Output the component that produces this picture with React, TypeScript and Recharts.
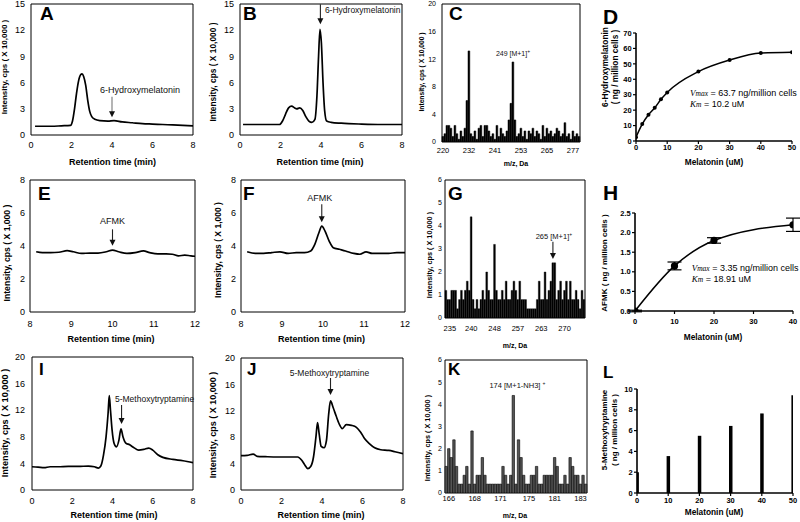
import React from 'react'
import {
  Bar,
  ComposedChart,
  ErrorBar,
  Line,
  ReferenceArea,
  ReferenceDot,
  XAxis,
  YAxis,
} from 'recharts'

const INK = '#000'
const SANS = '"Liberation Sans", Arial, Helvetica, sans-serif'
const SERIF = '"Liberation Serif", "Times New Roman", serif'

// ---------------------------------------------------------------------------
// Chromatograms (retention time in min, intensity)
// ---------------------------------------------------------------------------
const aTime = [0.2, 0.6, 1.0, 1.5, 1.95, 2.05, 2.15, 2.25, 2.35, 2.45, 2.52, 2.6, 2.7, 2.8, 2.9, 3.0, 3.15, 3.4, 3.8, 4.1, 4.5, 5.0, 5.5, 6.0, 6.5, 7.0, 7.5, 8.0]
const aSignal = [1.0, 1.0, 1.0, 1.05, 1.1, 1.6, 3.0, 4.8, 6.2, 6.9, 7.0, 6.7, 5.7, 4.0, 2.7, 2.1, 1.8, 1.65, 1.6, 1.65, 1.5, 1.4, 1.3, 1.25, 1.2, 1.15, 1.1, 1.05]

const bTime = [0.15, 0.6, 1.0, 1.5, 1.95, 2.1, 2.25, 2.4, 2.55, 2.7, 2.8, 2.95, 3.1, 3.25, 3.4, 3.55, 3.7, 3.8, 3.88, 3.95, 4.02, 4.1, 4.18, 4.28, 4.5, 5.0, 6.0, 7.0, 8.0]
const bSignal = [1.2, 1.2, 1.2, 1.2, 1.2, 1.6, 2.4, 3.1, 3.3, 3.1, 3.0, 3.1, 2.8, 2.1, 1.6, 1.45, 1.8, 4.5, 9.0, 12.1, 10.5, 6.0, 2.8, 1.6, 1.45, 1.35, 1.25, 1.2, 1.2]

const eTime = [8.15, 8.3, 8.5, 8.7, 8.9, 9.05, 9.25, 9.45, 9.65, 9.85, 10.0, 10.15, 10.35, 10.55, 10.75, 10.9, 11.1, 11.3, 11.45, 11.6, 11.75, 11.9, 12.0]
const eSignal = [3.65, 3.6, 3.6, 3.62, 3.72, 3.65, 3.55, 3.57, 3.57, 3.65, 3.75, 3.65, 3.55, 3.6, 3.7, 3.6, 3.52, 3.52, 3.5, 3.4, 3.45, 3.4, 3.38]

const fTime = [8.15, 8.35, 8.55, 8.75, 8.95, 9.15, 9.35, 9.55, 9.7, 9.8, 9.9, 9.97, 10.05, 10.15, 10.25, 10.4, 10.55, 10.75, 10.9, 11.05, 11.2, 11.4, 11.6, 11.8, 12.0]
const fSignal = [3.65, 3.55, 3.55, 3.6, 3.65, 3.55, 3.6, 3.6, 3.7, 4.1, 4.8, 5.2, 4.9, 4.3, 3.9, 3.8, 3.7, 3.55, 3.5, 3.65, 3.55, 3.55, 3.55, 3.6, 3.6]

const iTime = [0, 0.3, 0.6, 0.9, 1.3, 1.8, 2.3, 2.8, 3.1, 3.3, 3.42, 3.55, 3.68, 3.78, 3.84, 3.9, 3.98, 4.08, 4.2, 4.32, 4.42, 4.52, 4.65, 4.85, 5.05, 5.3, 5.55, 5.8, 6.0, 6.25, 6.5, 7.0, 7.5, 8.0]
const iSignal = [3.5, 3.45, 3.35, 3.5, 3.5, 3.55, 3.55, 3.6, 3.5, 3.3, 3.6, 5.2, 8.0, 11.5, 14.2, 12.0, 9.0, 7.0, 6.5, 7.5, 9.2, 8.0, 7.1, 6.8, 6.4, 6.0, 6.1, 6.3, 6.0, 5.3, 4.9, 4.6, 4.4, 4.1]

const jTime = [0, 0.3, 0.6, 0.8, 1.2, 1.8, 2.4, 2.8, 3.0, 3.15, 3.3, 3.45, 3.58, 3.7, 3.78, 3.86, 3.96, 4.1, 4.22, 4.33, 4.42, 4.55, 4.7, 4.85, 5.0, 5.2, 5.45, 5.7, 5.9, 6.1, 6.35, 6.6, 6.9, 7.3, 7.6, 8.0]
const jSignal = [5.2, 5.25, 5.45, 5.1, 5.05, 5.0, 5.0, 5.0, 4.5, 3.8, 3.25, 3.6, 5.0, 8.0, 10.2, 8.5, 6.6, 6.4, 7.5, 11.5, 13.5, 12.5, 11.2, 10.0, 9.3, 9.9, 9.8, 9.5, 8.8, 7.8, 7.0, 6.4, 6.1, 6.0, 5.8, 5.5]

const runTicks = [0, 2, 4, 6, 8]
const afmkTicks = [8, 9, 10, 11, 12]
const hydroxyY = [0, 3, 6, 9, 12, 15]
const afmkY = [0, 2, 4, 6, 8]
const methoxyY = [0, 4, 8, 12, 16, 20]

// ---------------------------------------------------------------------------
// Mass spectra (one bar per channel, labels only at a few channels)
// ---------------------------------------------------------------------------
const cIntensity = [0.8, 1.2, 2.4, 2.4, 2.0, 0.8, 2.4, 1.2, 0.4, 1.6, 0.8, 2.0, 6.0, 13.2, 1.2, 0.8, 1.6, 0.4, 2.0, 2.4, 0.8, 2.4, 2.4, 1.6, 0.8, 1.2, 0.4, 2.4, 0.8, 2.0, 1.2, 0.8, 1.6, 3.2, 5.6, 11.6, 3.2, 0.8, 1.2, 2.0, 0.8, 1.6, 0.4, 1.6, 1.2, 2.0, 0.8, 1.6, 1.2, 0.4, 2.4, 0.8, 2.0, 1.2, 1.6, 0.8, 1.2, 2.0, 1.6, 0.8, 1.2, 2.8, 0.8, 1.2, 0.4, 1.6, 0.8, 1.2, 0.8]
const cTickIdx = [0, 13, 26, 39, 52, 65]
const cTickLabels = ['220', '232', '241', '253', '265', '277']

const gIntensity = [1.2, 0.8, 0.8, 1.2, 1.2, 1.2, 0.4, 0.8, 1.2, 0.8, 1.2, 1.6, 1.2, 4.4, 0.8, 0.4, 0.8, 0.4, 0.8, 1.2, 0.8, 2.0, 1.2, 0.8, 0.8, 3.2, 1.2, 0.8, 0.8, 1.2, 0.8, 1.6, 0.8, 0.8, 1.2, 1.6, 1.2, 0.8, 1.6, 0.8, 0.8, 0.8, 0.4, 0.4, 0.4, 0.4, 0.4, 0.8, 1.6, 0.8, 0.8, 2.0, 0.8, 1.2, 1.6, 2.4, 2.4, 0.8, 1.2, 1.6, 0.8, 1.2, 1.6, 0.8, 1.6, 0.8, 0.8, 1.2, 0.8, 0.4, 1.2, 0.8]
const gTickIdx = [2, 13, 25, 37, 49, 61]
const gTickLabels = ['235', '240', '248', '257', '263', '270']

const kIntensity = [1.2, 2.0, 1.6, 2.4, 1.2, 0.4, 0.4, 0.8, 1.2, 0.4, 2.8, 0.4, 0.8, 0.8, 1.6, 0.8, 0.4, 0.4, 0.4, 0.4, 0.4, 0.4, 1.2, 0.8, 0.4, 0.8, 4.4, 0.4, 2.4, 1.6, 0.8, 0.4, 0.4, 0.8, 0.8, 1.2, 0.4, 0.4, 0.8, 0.8, 0.8, 0.8, 1.6, 1.2, 0.4, 0.4, 0.8, 0.4, 1.6, 1.2, 0.8, 0.8, 0.4, 0.8, 0.4]
const kTickIdx = [1, 11, 21, 32, 42, 52]
const kTickLabels = ['166', '168', '171', '175', '181', '183']

// ---------------------------------------------------------------------------
// Dose response (melatonin uM)
// ---------------------------------------------------------------------------
const dMelatonin = [0, 2, 4, 6, 8, 10, 20, 30, 40, 50]
const dHydroxy = [2.5, 11, 17, 21.5, 27, 31.5, 45, 52.5, 57, 57.5]

const hMelatonin = [0, 10, 20, 40]
const hAfmk = [0, 1.15, 1.8, 2.2]
const hAfmkErr = [0.02, 0.1, 0.07, 0.17]

const lMelatonin = [0, 10, 20, 30, 40, 50]
const lMethoxy = [2.0, 3.55, 5.5, 6.45, 7.65, 9.4]

type Rect = { x0: number; y0: number; x1: number; y1: number }

interface Note {
  x: number
  y: number
  text: React.ReactNode
  size: number
  dx: number
  dy: number
  gap?: number
  len?: number
  anchor?: 'start' | 'middle' | 'end'
  color?: string
}

// arrow + label hung above a data point
function noteShape(n: Note) {
  return (props: any) => {
    const { cx, cy } = props
    if (cx == null || cy == null) return <g />
    const len = n.len ?? 0
    const tip = cy - (n.gap ?? 0)
    const col = n.color ?? '#222'
    return (
      <g>
        {len > 0 && (
          <g>
            <line x1={cx} x2={cx} y1={tip - len} y2={tip - 5} stroke={col} strokeWidth={1.1} />
            <polygon points={`${cx - 3},${tip - 6} ${cx + 3},${tip - 6} ${cx},${tip}`} fill="#111" />
          </g>
        )}
        <text
          x={cx + n.dx}
          y={tip + n.dy}
          textAnchor={n.anchor ?? 'middle'}
          fontSize={n.size}
          fill="#111"
          fontFamily={SANS}
        >
          {n.text}
        </text>
      </g>
    )
  }
}

const sup = (s: string) => (
  <tspan dy={-3} fontSize={5}>
    {s}
  </tspan>
)

interface ChromProps {
  plot: Rect
  time: number[]
  signal: number[]
  xTicks: number[]
  yTicks: number[]
  note: Note
  xPad: [number, number]
  yPad: number
}

function Chromatogram({ plot, time, signal, xTicks, yTicks, note, xPad, yPad }: ChromProps) {
  const YW = 30
  const MT = 6
  const MR = 6
  const XH = 22
  const data = time.map((t, i) => ({ t, v: signal[i] }))
  const yMax = yTicks[yTicks.length - 1]
  return (
    <div style={{ position: 'absolute', left: plot.x0 - YW, top: plot.y0 - MT }}>
      <ComposedChart
        width={plot.x1 - plot.x0 + YW + MR}
        height={plot.y1 - plot.y0 + MT + XH}
        data={data}
        margin={{ top: MT, right: MR, bottom: 0, left: 0 }}
      >
        <XAxis
          dataKey="t"
          type="number"
          domain={[xTicks[0], xTicks[xTicks.length - 1]]}
          ticks={xTicks}
          interval={0}
          allowDataOverflow
          axisLine={false}
          tickLine={false}
          tickSize={xPad[0]}
          tickMargin={xPad[1]}
          height={XH}
          tick={{ fontSize: 9, fill: INK }}
        />
        <YAxis
          type="number"
          domain={[0, yMax]}
          ticks={yTicks}
          interval={0}
          allowDataOverflow
          axisLine={false}
          tickLine={false}
          width={YW}
          tickSize={yPad}
          tickMargin={1}
          tick={{ fontSize: 9, fill: INK }}
        />
        <Line
          dataKey="v"
          type="monotone"
          stroke={INK}
          strokeWidth={1.7}
          dot={false}
          isAnimationActive={false}
        />
        <ReferenceArea y1={0} y2={yMax} fill="none" stroke={INK} strokeWidth={1} ifOverflow="visible" />
        <ReferenceDot x={note.x} y={note.y} r={1} ifOverflow="visible" shape={noteShape(note)} />
      </ComposedChart>
    </div>
  )
}

interface SpecProps {
  plot: Rect
  values: number[]
  tickIdx: number[]
  tickLabels: string[]
  yTicks: number[]
  barSize: number
  fill: string
  edge: number
  note: Note
  xPad: [number, number]
  yPad: number
}

function Spectrum({ plot, values, tickIdx, tickLabels, yTicks, barSize, fill, edge, note, xPad, yPad }: SpecProps) {
  const YW = 24
  const MT = 6
  const MR = 6
  const XH = 18
  const data = values.map((v, i) => ({ i, v }))
  const yMax = yTicks[yTicks.length - 1]
  return (
    <div style={{ position: 'absolute', left: plot.x0 - YW, top: plot.y0 - MT }}>
      <ComposedChart
        width={plot.x1 - plot.x0 + YW + MR}
        height={plot.y1 - plot.y0 + MT + XH}
        data={data}
        margin={{ top: MT, right: MR, bottom: 0, left: 0 }}
      >
        <XAxis
          dataKey="i"
          type="category"
          ticks={tickIdx}
          interval={0}
          tickFormatter={(v) => tickLabels[tickIdx.indexOf(Number(v))] ?? ''}
          axisLine={false}
          tickLine={false}
          tickSize={xPad[0]}
          tickMargin={xPad[1]}
          height={XH}
          tick={{ fontSize: 7.5, fill: INK }}
        />
        <YAxis
          type="number"
          domain={[0, yMax]}
          ticks={yTicks}
          interval={0}
          allowDataOverflow
          axisLine={false}
          tickLine={false}
          width={YW}
          tickSize={yPad}
          tickMargin={1}
          tick={{ fontSize: 7, fill: INK }}
        />
        <Bar
          dataKey="v"
          fill={fill}
          stroke={INK}
          strokeWidth={edge}
          barSize={barSize}
          isAnimationActive={false}
        />
        <ReferenceArea y1={0} y2={yMax} fill="none" stroke={INK} strokeWidth={1} ifOverflow="visible" />
        <ReferenceDot x={note.x} y={note.y} r={1} ifOverflow="visible" shape={noteShape(note)} />
      </ComposedChart>
    </div>
  )
}

const boldTick = { fontSize: 7.5, fontWeight: 700, fill: INK }
const thickAxis = { stroke: INK, strokeWidth: 1.6 }
const thinTick = { stroke: INK, strokeWidth: 1.2 }

interface KinProps {
  plot: Rect
  xs: number[]
  ys: number[]
  errs?: number[]
  xTicks: number[]
  yTicks: number[]
  dotR?: number
  bars?: boolean
  xGap: number
  yFmt?: (v: number) => string
}

function Kinetics({ plot, xs, ys, errs, xTicks, yTicks, dotR = 2, bars, xGap, yFmt }: KinProps) {
  const YW = 26
  const MT = 6
  const MR = 800 - plot.x1
  const XH = 16
  const data = xs.map((x, i) => ({ x, y: ys[i], e: errs ? errs[i] : 0 }))
  const yMax = yTicks[yTicks.length - 1]
  return (
    <div style={{ position: 'absolute', left: plot.x0 - YW, top: plot.y0 - MT }}>
      <ComposedChart
        width={plot.x1 - plot.x0 + YW + MR}
        height={plot.y1 - plot.y0 + MT + XH}
        data={data}
        margin={{ top: MT, right: MR, bottom: 0, left: 0 }}
      >
        <XAxis
          dataKey="x"
          type="number"
          domain={[0, xTicks[xTicks.length - 1]]}
          ticks={xTicks}
          interval={0}
          allowDataOverflow
          axisLine={thickAxis}
          tickLine={thinTick}
          tickSize={3}
          tickMargin={xGap}
          height={XH}
          tick={boldTick}
        />
        <YAxis
          type="number"
          domain={[0, yMax]}
          ticks={yTicks}
          interval={0}
          allowDataOverflow
          axisLine={thickAxis}
          tickLine={thinTick}
          tickSize={3}
          tickMargin={1.3}
          width={YW}
          tick={boldTick}
          tickFormatter={yFmt}
        />
        {bars ? (
          <Bar dataKey="y" fill={INK} barSize={3.5} isAnimationActive={false} />
        ) : (
          <Line
            dataKey="y"
            type="monotone"
            stroke={INK}
            strokeWidth={1.5}
            dot={{ r: dotR, fill: INK, stroke: INK, strokeWidth: 0 }}
            isAnimationActive={false}
          >
            {errs && (
              <ErrorBar dataKey="e" width={7} stroke={INK} strokeWidth={1.2} isAnimationActive={false} />
            )}
          </Line>
        )}
      </ComposedChart>
    </div>
  )
}

// ---------------------------------------------------------------------------
// plain text overlays
// ---------------------------------------------------------------------------
function Letter({ t, x, y, size = 19 }: { t: string; x: number; y: number; size?: number }) {
  return (
    <div
      style={{
        position: 'absolute',
        left: x,
        top: y - 0.13 * size,
        fontSize: size,
        fontWeight: 700,
        lineHeight: 1,
      }}
    >
      {t}
    </div>
  )
}

function XTitle({ t, x, y, size = 9 }: { t: string; x: number; y: number; size?: number }) {
  return (
    <div
      style={{
        position: 'absolute',
        left: x,
        top: y,
        transform: 'translate(-50%, -50%)',
        fontSize: size,
        fontWeight: 700,
        whiteSpace: 'nowrap',
        lineHeight: 1,
      }}
    >
      {t}
    </div>
  )
}

function YTitle({ lines, x, y, size = 8.5 }: { lines: string[]; x: number; y: number; size?: number }) {
  return (
    <div
      style={{
        position: 'absolute',
        left: x,
        top: y,
        transform: 'translate(-50%, -50%) rotate(-90deg)',
        fontSize: size,
        fontWeight: 700,
        whiteSpace: 'nowrap',
        textAlign: 'center',
        lineHeight: '10px',
      }}
    >
      {lines.map((l) => (
        <div key={l}>{l}</div>
      ))}
    </div>
  )
}

function FitNote({ x, y, vmax, km }: { x: number; y: number; vmax: string; km: string }) {
  const it = { fontFamily: SERIF, fontStyle: 'italic' as const }
  return (
    <div style={{ position: 'absolute', left: x, top: y, fontSize: 9, lineHeight: '10px', whiteSpace: 'nowrap' }}>
      <div>
        <span style={it}>
          V<span style={{ fontSize: 7.5 }}>max</span>
        </span>{' '}
        = {vmax}
      </div>
      <div>
        <span style={it}>
          K<span style={{ fontSize: 7.5 }}>m</span>
        </span>{' '}
        = {km}
      </div>
    </div>
  )
}

const INTENSITY_10K = 'Intensity, cps ( X 10,000 )'
const INTENSITY_1K = 'Intensity, cps ( X 1,000 )'
const RT = 'Retention time (min)'
const MZ = 'm/z, Da'
const MEL = 'Melatonin (uM)'

export default function App() {
  return (
    <div
      style={{
        position: 'absolute',
        left: 0,
        top: 0,
        width: 800,
        height: 522,
        overflow: 'hidden',
        background: '#fff',
        fontFamily: SANS,
        color: INK,
      }}
    >
      {/* row 1 */}
      <Chromatogram
        plot={{ x0: 31, y0: 4, x1: 193, y1: 135 }}
        time={aTime}
        signal={aSignal}
        xTicks={runTicks}
        yTicks={hydroxyY}
        xPad={[4, 3]}
        yPad={5}
        note={{ x: 4, y: 1.65, gap: 3.3, len: 20.5, text: '6-Hydroxymelatonin', size: 9, dx: -12, dy: -24.3, anchor: 'start', color: '#777' }}
      />
      <Chromatogram
        plot={{ x0: 240, y0: 4, x1: 402, y1: 135 }}
        time={bTime}
        signal={bSignal}
        xTicks={runTicks}
        yTicks={hydroxyY}
        xPad={[4, 3]}
        yPad={5}
        note={{ x: 3.97, y: 12.1, gap: 5, len: 20, text: '6-Hydroxymelatonin', size: 8.5, dx: 4.5, dy: -11.3, anchor: 'start' }}
      />
      <Spectrum
        plot={{ x0: 442, y0: 4, x1: 580, y1: 142 }}
        values={cIntensity}
        tickIdx={cTickIdx}
        tickLabels={cTickLabels}
        yTicks={[0, 4, 8, 12, 16, 20]}
        barSize={2}
        fill={INK}
        edge={0.5}
        xPad={[3, 3]}
        yPad={5}
        note={{ x: 35, y: 11.6, text: <>249 [M+1]{sup('+')}</>, size: 7, dx: 0, dy: -6.3 }}
      />
      <Kinetics
        plot={{ x0: 636, y0: 33, x1: 792, y1: 141 }}
        xs={dMelatonin}
        ys={dHydroxy}
        xTicks={[0, 10, 20, 30, 40, 50]}
        yTicks={[0, 10, 20, 30, 40, 50, 60, 70]}
        dotR={2}
        xGap={1}
      />

      {/* row 2 */}
      <Chromatogram
        plot={{ x0: 30, y0: 180, x1: 195, y1: 312 }}
        time={eTime}
        signal={eSignal}
        xTicks={afmkTicks}
        yTicks={afmkY}
        xPad={[5, 4]}
        yPad={4}
        note={{ x: 10, y: 3.75, gap: 4.4, len: 16.4, text: 'AFMK', size: 9, dx: 0, dy: -21.4 }}
      />
      <Chromatogram
        plot={{ x0: 241, y0: 180, x1: 405, y1: 312 }}
        time={fTime}
        signal={fSignal}
        xTicks={afmkTicks}
        yTicks={afmkY}
        xPad={[5, 4]}
        yPad={4}
        note={{ x: 9.97, y: 5.2, gap: 4, len: 18, text: 'AFMK', size: 9, dx: -2, dy: -21.3 }}
      />
      <Spectrum
        plot={{ x0: 445, y0: 180, x1: 585, y1: 318 }}
        values={gIntensity}
        tickIdx={gTickIdx}
        tickLabels={gTickLabels}
        yTicks={[0, 1, 2, 3, 4, 5, 6]}
        barSize={2}
        fill={INK}
        edge={0.4}
        xPad={[4, 4]}
        yPad={2}
        note={{ x: 55, y: 2.4, gap: 3.8, len: 17.3, text: <>265 [M+1]{sup('+')}</>, size: 7.5, dx: 1, dy: -20 }}
      />
      <Kinetics
        plot={{ x0: 635, y0: 213, x1: 793, y1: 311 }}
        xs={hMelatonin}
        ys={hAfmk}
        errs={hAfmkErr}
        xTicks={[0, 10, 20, 30, 40]}
        yTicks={[0, 0.5, 1, 1.5, 2, 2.5]}
        dotR={3.6}
        xGap={4.5}
        yFmt={(v) => Number(v).toFixed(1)}
      />

      {/* row 3 */}
      <Chromatogram
        plot={{ x0: 32, y0: 357, x1: 193, y1: 490 }}
        time={iTime}
        signal={iSignal}
        xTicks={runTicks}
        yTicks={methoxyY}
        xPad={[4, 4]}
        yPad={6}
        note={{ x: 4.45, y: 9.2, gap: 4.8, len: 19, text: '5-Methoxytryptamine', size: 8.5, dx: -6.6, dy: -21.7, anchor: 'start' }}
      />
      <Chromatogram
        plot={{ x0: 241, y0: 358, x1: 403, y1: 490 }}
        time={jTime}
        signal={jSignal}
        xTicks={runTicks}
        yTicks={methoxyY}
        xPad={[4, 4]}
        yPad={5}
        note={{ x: 4.42, y: 13.5, gap: 5.9, len: 17, text: '5-Methoxytryptamine', size: 8.5, dx: -1, dy: -19.3 }}
      />
      <Spectrum
        plot={{ x0: 445, y0: 360, x1: 587, y1: 493 }}
        values={kIntensity}
        tickIdx={kTickIdx}
        tickLabels={kTickLabels}
        yTicks={[0, 1, 2, 3, 4, 5, 6]}
        barSize={2.4}
        fill="#555"
        edge={0.6}
        xPad={[1, 2]}
        yPad={2}
        note={{ x: 26, y: 4.4, text: <>174 [M+1-NH3] {sup('+')}</>, size: 7.5, dx: 4, dy: -7 }}
      />
      <Kinetics
        plot={{ x0: 637, y0: 389, x1: 793, y1: 493 }}
        xs={lMelatonin}
        ys={lMethoxy}
        xTicks={[0, 10, 20, 30, 40, 50]}
        yTicks={[0, 2, 4, 6, 8, 10]}
        bars
        xGap={2}
      />

      {/* panel letters */}
      <Letter t="A" x={40} y={6.7} />
      <Letter t="B" x={243} y={6.7} />
      <Letter t="C" x={449} y={6.7} />
      <Letter t="D" x={603} y={8.3} size={21} />
      <Letter t="E" x={38} y={186.7} />
      <Letter t="F" x={243} y={186.7} />
      <Letter t="G" x={448} y={186.7} />
      <Letter t="H" x={603} y={185} size={21} />
      <Letter t="I" x={39} y={363.3} size={17} />
      <Letter t="J" x={247} y={363.3} size={17} />
      <Letter t="K" x={448} y={363.3} size={17} />
      <Letter t="L" x={603} y={366.7} size={17} />

      {/* axis titles */}
      <XTitle t={RT} x={112.5} y={162} />
      <XTitle t={RT} x={320} y={162} />
      <XTitle t={MZ} x={516} y={163} size={7} />
      <XTitle t={MEL} x={714} y={161.7} size={8.3} />
      <XTitle t={RT} x={111} y={339} />
      <XTitle t={RT} x={321.5} y={339} />
      <XTitle t={MZ} x={515} y={345} size={7} />
      <XTitle t={MEL} x={713} y={336.7} size={8.3} />
      <XTitle t={RT} x={114} y={515} />
      <XTitle t={RT} x={321} y={515} />
      <XTitle t={MZ} x={515} y={515} size={7} />
      <XTitle t={MEL} x={714} y={511.7} size={8.3} />

      <YTitle lines={[INTENSITY_10K]} x={5} y={67} size={8} />
      <YTitle lines={[INTENSITY_10K]} x={213.3} y={71.7} size={8.4} />
      <YTitle lines={[INTENSITY_10K]} x={421.7} y={71.7} size={6.7} />
      <YTitle lines={['6-Hydroxymelatonin', '( ng / million cells )']} x={610} y={66.7} size={8.3} />
      <YTitle lines={[INTENSITY_1K]} x={6.7} y={253} size={8.6} />
      <YTitle lines={[INTENSITY_1K]} x={218.3} y={250} size={8.5} />
      <YTitle lines={[INTENSITY_10K]} x={430} y={255} size={7.3} />
      <YTitle lines={['AFMK ( ng / million cells )']} x={605} y={263} size={8} />
      <YTitle lines={[INTENSITY_10K]} x={5} y={423} size={9.2} />
      <YTitle lines={[INTENSITY_10K]} x={213.3} y={425} size={9} />
      <YTitle lines={[INTENSITY_10K]} x={428.3} y={438.3} size={7.3} />
      <YTitle lines={['5-Methoxytryptamine', '( ng / million cells )']} x={610} y={430} size={8} />

      {/* fit parameters */}
      <FitNote x={690} y={88} vmax="63.7 ng/million cells" km="10.2 uM" />
      <FitNote x={691.7} y={263} vmax="3.35 ng/million cells" km="18.91 uM" />
    </div>
  )
}
